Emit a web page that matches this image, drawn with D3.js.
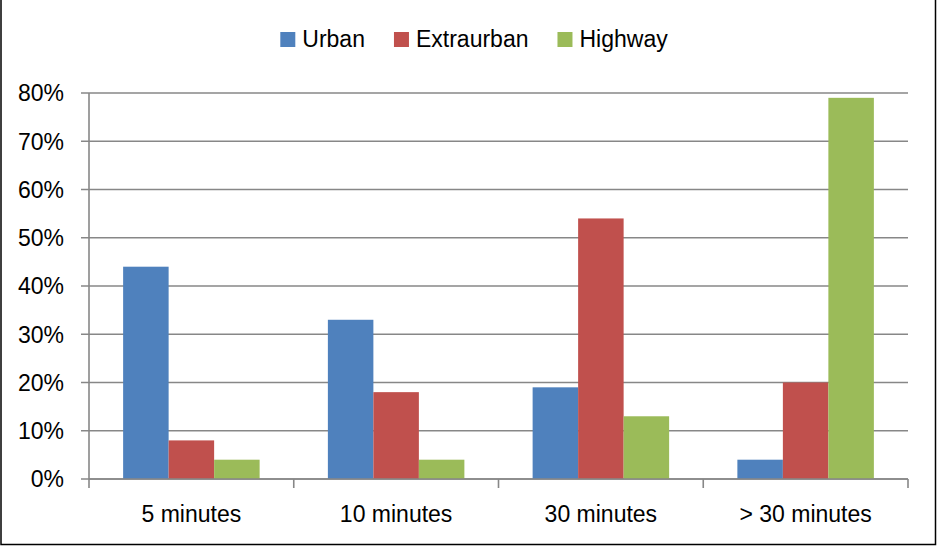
<!DOCTYPE html>
<html><head><meta charset="utf-8">
<script src="https://cdn.jsdelivr.net/npm/d3@7"></script>
<style>body{margin:0;background:#fff}svg{display:block}text{font-family:"Liberation Sans",Arial,sans-serif;fill:#000}</style>
</head><body><svg id="c" width="937" height="546"></svg>
<script>
const categories = ["5 minutes", "10 minutes", "30 minutes", "> 30 minutes"];
const seriesNames = ["Urban", "Extraurban", "Highway"];
const urban = [44, 33, 19, 4];
const extraurban = [8, 18, 54, 20];
const highway = [4, 4, 13, 79];
const yTicks = [0, 10, 20, 30, 40, 50, 60, 70, 80];
const colors = ["#4F81BD", "#C0504D", "#9BBB59"];
const seriesValues = [urban, extraurban, highway];

(function () {
const svg = d3.select("#c");
const pl = 89, pr = 908, pt = 93, pb = 479;
const fs = 23;

const x = d3.scaleBand().domain(categories).range([pl, pr]).paddingInner(0).paddingOuter(0);
const xs = d3.scaleBand().domain(seriesNames).range([0, x.bandwidth()]).paddingInner(0).paddingOuter(0.75);
const y = d3.scaleLinear().domain([0, 80]).range([pb, pt]);

svg.append("g").selectAll("line").data(yTicks).join("line")
  .attr("x1", pl - 8).attr("x2", pr)
  .attr("y1", d => y(d)).attr("y2", d => y(d))
  .attr("stroke", "#878787").attr("stroke-width", 1.6);

svg.append("line").attr("x1", pl).attr("x2", pl).attr("y1", pt).attr("y2", pb)
  .attr("stroke", "#878787").attr("stroke-width", 1.6);

svg.append("g").selectAll("text").data(yTicks).join("text")
  .attr("x", 64).attr("y", d => y(d)).attr("dy", "0.36em")
  .attr("text-anchor", "end").attr("font-size", fs)
  .text(d => d + "%");

const bounds = categories.map(c => x(c)).concat([pr]);
svg.append("g").selectAll("line").data(bounds).join("line")
  .attr("x1", d => d).attr("x2", d => d).attr("y1", pb).attr("y2", pb + 9)
  .attr("stroke", "#878787").attr("stroke-width", 1.6);

const groups = svg.append("g").selectAll("g").data(categories).join("g")
  .attr("transform", c => `translate(${x(c)},0)`);
groups.selectAll("rect").data((c, i) => seriesNames.map((s, j) => ({s, v: seriesValues[j][i], j})))
  .join("rect")
  .attr("x", d => xs(d.s)).attr("width", xs.bandwidth())
  .attr("y", d => y(d.v)).attr("height", d => y(0) - y(d.v))
  .attr("fill", d => colors[d.j]);

svg.append("line").attr("x1", pl).attr("x2", pr).attr("y1", pb).attr("y2", pb)
  .attr("stroke", "#878787").attr("stroke-width", 1.6);

svg.append("g").selectAll("text").data(categories).join("text")
  .attr("x", c => x(c) + x.bandwidth() / 2).attr("y", 522)
  .attr("text-anchor", "middle").attr("font-size", fs)
  .text(c => c);

const leg = svg.append("g");
let lx = 0;
seriesNames.forEach((s, i) => {
  const g = leg.append("g").attr("transform", `translate(${lx},0)`);
  g.append("rect").attr("x", 0).attr("y", 32).attr("width", 15).attr("height", 15).attr("fill", colors[i]);
  const t = g.append("text").attr("x", 22).attr("y", 47).attr("font-size", fs).text(s);
  const w = t.node().getComputedTextLength();
  lx += 22 + w + 29;
});
const totalW = lx - 29;
leg.attr("transform", `translate(${474 - totalW / 2},0)`);

svg.append("path").attr("d", "M1,0 L1,544.5 L935.5,544.5 L935.5,0")
  .attr("fill", "none").attr("stroke", "#000").attr("stroke-width", 1.5);
})();
</script></body></html>
